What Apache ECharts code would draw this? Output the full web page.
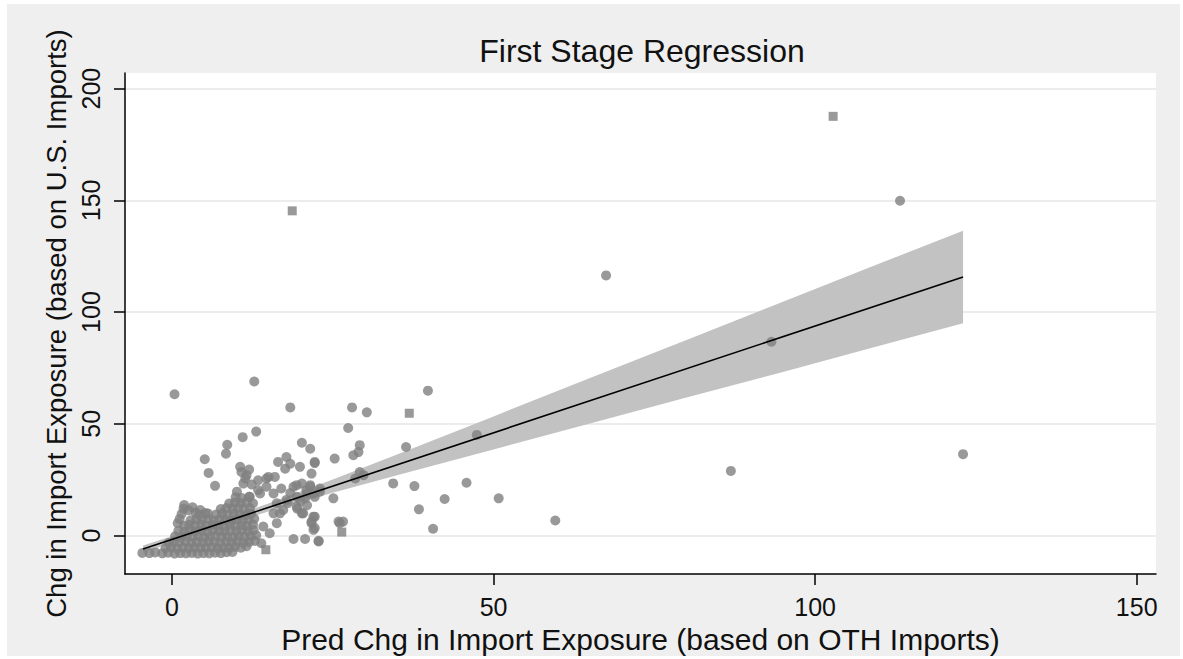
<!DOCTYPE html>
<html>
<head>
<meta charset="utf-8">
<script src="https://cdn.jsdelivr.net/npm/echarts@6/dist/echarts.min.js"></script>
<style>
  html, body { margin: 0; padding: 0; background: #ffffff; }
  #bg { position: absolute; left: 7px; top: 4px; width: 1173px; height: 652px; background: #efefef; }
  #chart { position: absolute; left: 0; top: 0; width: 1183px; height: 659px; }
</style>
</head>
<body>
<div id="bg"></div>
<div id="chart"></div>
<script>
// ---- Data ----
const chartTitle = 'First Stage Regression';
const xTitle = 'Pred Chg in Import Exposure (based on OTH Imports)';
const yTitle = 'Chg in Import Exposure (based on U.S. Imports)';
const xTicks = [0, 50, 100, 150];
const yTicks = [0, 50, 100, 150, 200];

// dense cluster near the origin
const clusterPts = [
  [-4.6,-7.8],[-3.5,-7.9],[-2.6,-7.6],[-1.5,-8.0],[-0.6,-7.7],[0.4,-8.1],[1.3,-7.9],[2.2,-8.0],
  [3.1,-7.8],[4.0,-8.1],[4.9,-7.9],[5.8,-8.0],[6.7,-7.7],[7.6,-7.9],[8.5,-7.5],[9.4,-7.4],
  [-1.0,-5.6],[-0.1,-5.2],[0.8,-5.8],[1.7,-5.4],[2.6,-5.7],[3.5,-5.3],[4.4,-5.6],[5.3,-5.5],
  [6.2,-5.2],[7.1,-5.8],[8.0,-5.4],[8.9,-5.6],[9.8,-5.1],[10.7,-5.5],[11.6,-4.8],
  [-0.5,-3.4],[0.3,-2.8],[1.2,-3.1],[2.1,-2.6],[3.0,-3.3],[3.9,-2.9],[4.8,-3.2],[5.7,-2.7],
  [6.6,-3.0],[7.5,-3.4],[8.4,-2.8],[9.3,-3.1],[10.2,-2.6],[11.1,-3.2],[12.0,-2.9],[12.9,-2.5],
  [0.5,-0.4],[1.4,-0.8],[2.3,-0.2],[3.2,-0.6],[4.1,-0.3],[5.0,-0.9],[5.9,-0.5],[6.8,-0.1],
  [7.7,-0.7],[8.6,-0.4],[9.5,-0.8],[10.4,-0.2],[11.3,-0.6],[12.2,-0.3],[13.1,0.1],
  [1.0,2.1],[1.9,1.7],[2.8,2.4],[3.7,1.9],[4.6,2.2],[5.5,1.6],[6.4,2.5],[7.3,2.0],
  [8.2,1.8],[9.1,2.3],[10.0,1.9],[10.9,2.6],[11.8,2.0],[12.7,2.4],
  [1.9,4.3],[2.7,4.8],[3.6,4.4],[4.5,4.9],[5.4,4.2],[6.3,4.7],[7.2,4.5],[8.1,4.1],
  [9.0,4.8],[9.9,4.4],[10.8,4.6],[11.7,4.2],[12.6,4.9],
  [2.9,6.8],[3.8,7.3],[4.7,6.9],[5.6,7.4],[6.5,6.7],[7.4,7.2],[8.3,7.0],[9.2,6.6],
  [10.1,7.3],[11.0,6.9],[11.9,7.1],[12.8,7.5],
  [4.2,9.3],[5.6,9.8],[6.9,9.4],[7.8,9.9],[8.7,9.2],[9.6,9.7],[10.5,9.5],[11.4,9.1],[12.3,9.8],
  [7.6,11.8],[8.5,12.3],[9.4,11.9],[10.3,12.4],[11.2,11.7],[12.1,12.2],
  [8.9,14.3],[9.8,14.8],[10.7,14.4],[11.6,14.9],
  [9.9,17.1],[10.8,16.8],[12.0,17.3],
  [1.5,9.6],[1.8,12.0],[1.9,13.6],[2.6,11.3],[3.2,12.6],[3.7,10.2],[4.4,11.4],[5.2,10.0],
  [0.9,5.5],[1.2,7.4]
];

// scattered points
const spreadPts = [
  [0.4,63.2],[12.8,68.9],[18.4,57.3],[13.1,46.5],[11.0,44.0],[8.6,40.6],[8.4,36.6],[5.1,34.1],
  [5.7,28.0],[6.7,22.2],[20.2,41.5],[21.5,38.8],[16.5,32.9],[17.8,35.1],[18.4,32.1],[17.6,29.9],
  [22.2,32.9],[25.3,34.4],[10.8,28.4],[11.6,27.0],[11.1,23.2],[14.7,25.5],[16.0,26.2],[19.4,22.5],
  [21.5,22.5],[23.0,21.0],[25.9,6.2],[22.0,8.4],[22.2,3.3],[22.8,-2.7],[18.9,-1.6],[20.7,-1.6],
  [10.1,19.6],[13.4,24.7],[13.4,20.3],[12.1,17.3],[12.6,14.4],[16.3,14.4],[17.3,11.4],[15.8,9.9],
  [10.6,30.7],[12.0,29.5],[11.4,25.5],[12.4,22.8],[15.0,26.2],
  [17.0,21.0],[18.4,19.0],[19.4,17.3],[20.0,15.5],[21.0,13.5],[18.0,14.5],[19.5,12.0],[16.8,9.9],
  [20.2,9.9],[14.2,4.0],[15.2,1.0],[16.3,5.5],[13.9,-3.5],[13.7,18.8],[14.7,21.8],[15.8,18.8],
  [17.8,15.9],[19.4,12.9],[18.9,21.8],[20.9,20.3],[22.0,18.8],[20.7,16.6],
  [28.0,57.3],[30.3,55.1],[27.4,48.1],[29.2,40.4],[29.0,37.3],[28.2,35.9],[36.4,39.6],[22.2,32.4],
  [29.2,28.4],[29.8,27.0],[28.5,25.5],[34.4,23.3],[37.7,22.1],[45.8,23.6],[47.4,45.0],[42.4,16.3],
  [50.8,16.6],[38.4,11.7],[40.6,3.0],[20.2,23.2],[21.5,21.8],[20.9,18.8],[22.2,17.3],[23.0,19.6],
  [25.1,16.6],[20.4,9.9],[22.2,8.4],[21.7,5.5],[22.0,2.5],[26.6,6.2],[22.8,-2.4],[19.9,30.7],
  [21.7,27.7],[39.8,64.8],[21.7,6.2],[26.1,5.5],
  [113.2,149.8],[67.5,116.4],[93.2,86.7],[123.0,36.4],[86.9,28.9],[59.6,6.7]
];

// points that render as small squares in the reference
const squarePts = [[102.8,187.6],[18.7,145.3],[36.9,54.7],[14.6,-6.4],[26.4,1.5]];

// fitted line and its confidence band
const fitX = [-4.5, 123.0];
const fitY = [-6.1, 115.7];
const bandX     = [-4.5, 5, 15, 25, 35, 50, 65, 80, 95, 110, 123];
const bandLower = [-7.7, 1.7, 10.7, 19.1, 27.0, 38.5, 50.1, 61.7, 73.2, 84.9, 95.0];
const bandUpper = [-4.5, 4.3, 14.3, 25.1, 36.2, 53.3, 70.5, 87.5, 104.6, 121.7, 136.4];

// ---- Chart ----
const FONT = 'Liberation Sans, Arial, sans-serif';
const chart = echarts.init(document.getElementById('chart'), null, { renderer: 'svg' });

const option = {
  backgroundColor: 'transparent',
  animation: false,
  title: {
    text: chartTitle,
    left: 637,
    textAlign: 'center',
    top: 30,
    textStyle: { fontFamily: FONT, fontSize: 32, fontWeight: 'normal', color: '#111' }
  },
  grid: {
    left: 125, right: 27, top: 73, bottom: 81,
    show: true, backgroundColor: '#ffffff', borderWidth: 0
  },
  xAxis: {
    type: 'value',
    min: -7.3, max: 153,
    name: xTitle,
    nameLocation: 'middle',
    nameGap: 43,
    nameTextStyle: { fontFamily: FONT, fontSize: 30, color: '#111' },
    axisLine: { show: true, onZero: false, lineStyle: { color: '#000', width: 1.5 } },
    axisTick: { show: true, length: 11, lineStyle: { color: '#000', width: 1.5 }, customValues: xTicks },
    axisLabel: { fontFamily: FONT, fontSize: 25, color: '#111', margin: 20, customValues: xTicks },
    splitLine: { show: false }
  },
  yAxis: {
    type: 'value',
    min: -17.3, max: 207,
    name: yTitle,
    nameLocation: 'middle',
    nameGap: 54,
    nameTextStyle: { fontFamily: FONT, fontSize: 27.5, color: '#111' },
    axisLine: { show: true, onZero: false, lineStyle: { color: '#000', width: 1.5 } },
    axisTick: { show: true, length: 11, lineStyle: { color: '#000', width: 1.5 }, customValues: yTicks },
    axisLabel: { fontFamily: FONT, fontSize: 25, color: '#111', margin: 22, rotate: 90, customValues: yTicks },
    splitLine: { show: true, lineStyle: { color: '#e6e6e6', width: 1.5 } }
  },
  series: [
    {
      type: 'custom',
      z: 1,
      silent: true,
      clip: true,
      data: bandX.map((x, i) => [x, bandLower[i], bandUpper[i]]),
      encode: { x: 0, y: [1, 2] },
      renderItem: function (params, api) {
        if (params.dataIndex !== 0) return null;
        const pts = [];
        for (let i = 0; i < bandX.length; i++) pts.push(api.coord([bandX[i], bandUpper[i]]));
        for (let i = bandX.length - 1; i >= 0; i--) pts.push(api.coord([bandX[i], bandLower[i]]));
        return { type: 'polygon', shape: { points: pts }, style: { fill: '#c2c2c2' } };
      }
    },
    {
      type: 'scatter',
      z: 2,
      symbol: 'circle',
      symbolSize: 10,
      itemStyle: { color: '#808080' },
      data: clusterPts.concat(spreadPts)
    },
    {
      type: 'scatter',
      z: 2,
      symbol: 'rect',
      symbolSize: 9,
      itemStyle: { color: '#808080' },
      data: squarePts
    },
    {
      type: 'line',
      z: 3,
      showSymbol: false,
      symbol: 'none',
      lineStyle: { color: '#000', width: 1.6 },
      data: fitX.map((x, i) => [x, fitY[i]])
    }
  ]
};
chart.setOption(option);
</script>
</body>
</html>
